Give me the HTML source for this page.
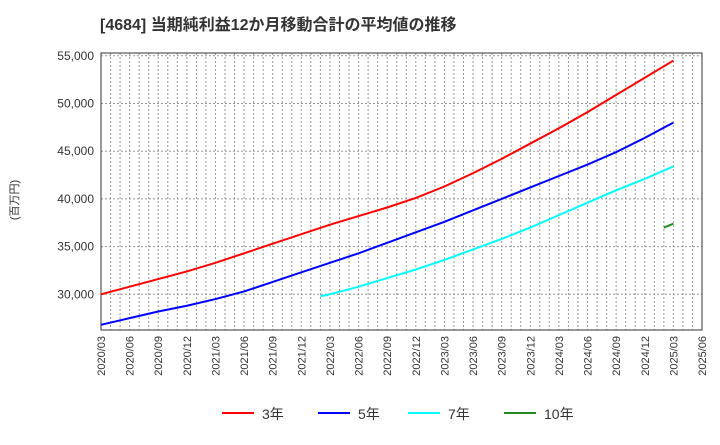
<!DOCTYPE html>
<html><head><meta charset="utf-8"><style>
body{margin:0;background:#fff;font-family:"Liberation Sans","Noto Sans CJK JP",sans-serif}
</style></head><body>
<svg id="c" width="720" height="440" xmlns="http://www.w3.org/2000/svg" font-family="Liberation Sans, Noto Sans CJK JP, sans-serif">
<text x="100" y="30" font-size="16" font-weight="bold" fill="#333">[4684]  当期純利益12か月移動合計の平均値の推移</text>
<text x="18" y="200" font-size="11" fill="#333" transform="rotate(-90 18 200)" text-anchor="middle">(百万円)</text>
<g id="grid"></g><g id="axes"></g><g id="series"></g><g id="legend"></g>
</svg>
<script>
const xLabels=["2020/03","2020/06","2020/09","2020/12","2021/03","2021/06","2021/09","2021/12","2022/03","2022/06","2022/09","2022/12","2023/03","2023/06","2023/09","2023/12","2024/03","2024/06","2024/09","2024/12","2025/03","2025/06"];
const yTicks=[30000,35000,40000,45000,50000,55000];
const red3Months=[0,3,6,9,12,15,18,21,24,27,30,33,36,39,42,45,48,51,54,57,60];
const red3=[30000,30800,31600,32400,33300,34300,35300,36300,37300,38200,39100,40100,41300,42700,44200,45800,47400,49100,50900,52700,54500];
const blue5Months=[0,3,6,9,12,15,18,21,24,27,30,33,36,39,42,45,48,51,54,57,60];
const blue5=[26800,27500,28200,28800,29500,30300,31300,32300,33300,34300,35400,36500,37600,38800,40000,41200,42400,43600,44900,46400,48000];
const cyan7Months=[23,24,27,30,33,36,39,42,45,48,51,54,57,60];
const cyan7=[29800,30000,30800,31700,32600,33600,34700,35800,37000,38300,39600,40900,42100,43400];
const green10Months=[59,60];
const green10=[37000,37400];
const L=101,R=702,T=53,B=330;
const X=m=>L+m*(R-L)/63;
const Y=v=>294.3-(v-30000)*47.7/5000;
const NS="http://www.w3.org/2000/svg";
function mk(p,t,a){const e=document.createElementNS(NS,t);for(const k in a)e.setAttribute(k,a[k]);document.getElementById(p).appendChild(e);return e;}
for(let m=1;m<63;m++){const g=mk('grid','line',{x1:X(m),x2:X(m),y1:T,y2:B,stroke:'#999','stroke-dasharray':'2,2','stroke-width':1});

}
yTicks.forEach(v=>{const g=mk('grid','line',{x1:L,x2:R,y1:Y(v),y2:Y(v),stroke:'#999','stroke-dasharray':'2,2'});


const t=mk('axes','text',{x:L-7,y:Y(v)+4,'text-anchor':'end','font-size':12,fill:'#333'});t.textContent=v.toLocaleString('en-US');

});
xLabels.forEach((s,i)=>{const x=X(i*3);const t=mk('axes','text',{x:x+4,y:B+6,'text-anchor':'end','font-size':11,fill:'#333',transform:`rotate(-90 ${x+4} ${B+6})`});t.textContent=s;

});
const fr=mk('axes','rect',{x:L,y:T,width:R-L,height:B-T,fill:'none',stroke:'#333'});


function line(ms,vs,c,name){const p=mk('series','polyline',{points:ms.map((m,i)=>X(m)+','+Y(vs[i])).join(' '),fill:'none',stroke:c,'stroke-width':2});

}
line(red3Months,red3,'#f00','series-3y');
line(blue5Months,blue5,'#00f','series-5y');
line(cyan7Months,cyan7,'#0ff','series-7y');
line(green10Months,green10,'#228b22','series-10y');
[["3年",'#f00',222],["5年",'#00f',318],["7年",'#0ff',408],["10年",'#228b22',504]].forEach(([s,c,x])=>{
const l=mk('legend','line',{x1:x,x2:x+32,y1:413,y2:413,stroke:c,'stroke-width':2});


const t=mk('legend','text',{x:x+40,y:419,'font-size':14,fill:'#333'});t.textContent=s;

});
</script>
</body></html>
